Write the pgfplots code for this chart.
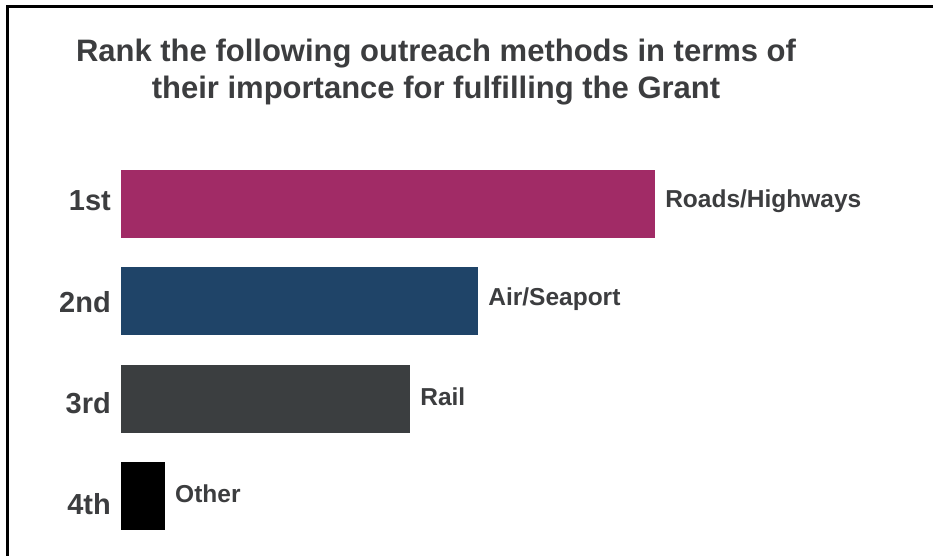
\documentclass[border=0pt]{standalone}
\usepackage{pgfplots}
\pgfplotsset{compat=1.18}
\usepackage{fontspec}
\setmainfont{Liberation Sans}
\definecolor{cMag}{HTML}{A12B66}
\definecolor{cNavy}{HTML}{1F4468}
\definecolor{cGray}{HTML}{3B3E40}
\definecolor{txt}{HTML}{3C3D3F}
\begin{document}
\begin{tikzpicture}
\useasboundingbox (0,0) rectangle (933bp,-556bp);
\fill[white] (0,0) rectangle (933bp,-556bp);
\draw[line width=3bp, black] (7.5bp,-556bp) -- (7.5bp,-6bp) -- (933bp,-6bp);
\node[anchor=base, inner sep=0pt, text=txt, font=\bfseries\fontsize{31bp}{37bp}\selectfont] at (436bp,-61bp) {Rank the following outreach methods in terms of};
\node[anchor=base, inner sep=0pt, text=txt, font=\bfseries\fontsize{31bp}{37bp}\selectfont] at (436bp,-98bp) {their importance for fulfilling the Grant};
\begin{axis}[
  at={(121bp,-545bp)}, anchor=south west,
  scale only axis, width=779bp, height=390bp,
  xmin=0, xmax=35.4, ymin=-0.5, ymax=3.5,
  y dir=reverse,
  axis line style={draw=none},
  xtick=\empty,
  ytick={0,1,2,3},
  yticklabels={1st,2nd,3rd,4th},
  major tick length=0pt,
  yticklabel style={inner sep=0pt, xshift=-10bp, yshift={(3-3.67*\ticknum)*1bp}, text=txt, font=\bfseries\fontsize{29bp}{32bp}\selectfont},
  xbar, bar width=0.7, bar shift=0pt,
  point meta=explicit symbolic,
  nodes near coords,
  every node near coord/.append style={anchor=west, inner sep=0pt, xshift=10bp, yshift=2.5bp, text=txt, font=\bfseries\fontsize{24.5bp}{28bp}\selectfont},
  clip=false,
]
\addplot[fill=cMag, draw=none] coordinates {(24.27,0) [Roads/Highways]};
\addplot[fill=cNavy, draw=none] coordinates {(16.23,1) [Air/Seaport]};
\addplot[fill=cGray, draw=none] coordinates {(13.14,2) [Rail]};
\addplot[fill=black, draw=none] coordinates {(2.0,3) [Other]};
\end{axis}
\end{tikzpicture}
\end{document}
